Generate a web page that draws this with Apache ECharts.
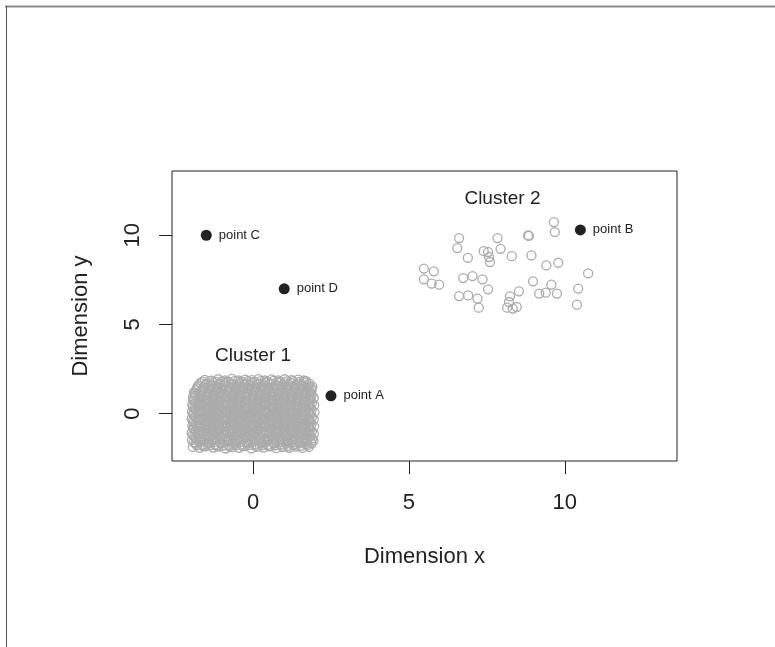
<!DOCTYPE html>
<html>
<head>
<meta charset="utf-8">
<title>Clusters</title>
<script src="https://cdn.jsdelivr.net/npm/echarts@6/dist/echarts.min.js"></script>
<style>
html, body { margin: 0; padding: 0; background: #fff; }
#chart { width: 775px; height: 647px; }
</style>
</head>
<body>
<div id="chart"></div>
<script>
// 数据: cluster 1 是一大团点, cluster 2 是散开的点, 另有四个单独标注的点
var cluster1 = [
    [-1.93,-1.86],[-1.71,-1.92],[-1.52,-1.83],[-1.28,-1.9],[-1.1,-1.84],[-0.88,-1.95],[-0.67,-1.87],[-0.45,-1.91],[-0.27,-1.82],[-0.05,-1.94],[0.14,-1.86],[0.33,-1.9],[0.56,-1.83],[0.74,-1.93],[0.95,-1.87],[1.16,-1.91],[1.37,-1.84],[1.58,-1.92],[1.79,-1.86],
    [-1.84,-1.68],[-1.62,-1.74],[-1.41,-1.66],[-1.22,-1.72],[-1.01,-1.65],[-0.79,-1.76],[-0.58,-1.69],[-0.36,-1.73],[-0.15,-1.64],[0.06,-1.71],[0.27,-1.67],[0.47,-1.75],[0.66,-1.66],[0.87,-1.72],[1.06,-1.68],[1.27,-1.74],[1.48,-1.65],[1.69,-1.71],[1.88,-1.67],
    [-1.96,-1.47],[-1.75,-1.53],[-1.55,-1.45],[-1.33,-1.52],[-1.14,-1.48],[-0.93,-1.55],[-0.71,-1.46],[-0.52,-1.51],[-0.31,-1.44],[-0.1,-1.53],[0.11,-1.49],[0.32,-1.54],[0.51,-1.45],[0.72,-1.5],[0.93,-1.47],[1.13,-1.53],[1.34,-1.46],[1.55,-1.52],[1.74,-1.48],[1.94,-1.51],
    [-1.88,-1.28],[-1.67,-1.34],[-1.46,-1.26],[-1.25,-1.31],[-1.05,-1.27],[-0.84,-1.35],[-0.63,-1.29],[-0.42,-1.33],[-0.22,-1.25],[-0.01,-1.32],[0.2,-1.28],[0.41,-1.35],[0.61,-1.26],[0.82,-1.3],[1.02,-1.27],[1.23,-1.34],[1.44,-1.29],[1.64,-1.32],[1.85,-1.26],
    [-1.97,-1.08],[-1.78,-1.13],[-1.57,-1.06],[-1.36,-1.12],[-1.16,-1.05],[-0.95,-1.14],[-0.74,-1.09],[-0.53,-1.11],[-0.33,-1.04],[-0.12,-1.13],[0.09,-1.07],[0.3,-1.12],[0.5,-1.05],[0.71,-1.1],[0.92,-1.08],[1.12,-1.14],[1.33,-1.06],[1.54,-1.11],[1.75,-1.07],[1.95,-1.12],
    [-1.9,-0.87],[-1.69,-0.93],[-1.48,-0.86],[-1.27,-0.91],[-1.07,-0.85],[-0.86,-0.94],[-0.65,-0.88],[-0.44,-0.92],[-0.24,-0.84],[-0.03,-0.91],[0.18,-0.87],[0.38,-0.94],[0.59,-0.86],[0.8,-0.9],[1.01,-0.88],[1.21,-0.93],[1.42,-0.85],[1.62,-0.91],[1.83,-0.87],
    [-1.95,-0.68],[-1.76,-0.73],[-1.55,-0.66],[-1.34,-0.71],[-1.13,-0.65],[-0.93,-0.74],[-0.72,-0.67],[-0.51,-0.72],[-0.3,-0.64],[-0.1,-0.71],[0.11,-0.68],[0.32,-0.73],[0.53,-0.65],[0.73,-0.7],[0.94,-0.67],[1.15,-0.74],[1.35,-0.66],[1.56,-0.72],[1.77,-0.69],[1.96,-0.71],
    [-1.89,-0.47],[-1.68,-0.53],[-1.47,-0.45],[-1.26,-0.52],[-1.06,-0.46],[-0.85,-0.54],[-0.64,-0.48],[-0.43,-0.51],[-0.23,-0.44],[-0.02,-0.53],[0.19,-0.47],[0.4,-0.52],[0.6,-0.45],[0.81,-0.5],[1.02,-0.48],[1.22,-0.54],[1.43,-0.46],[1.64,-0.51],[1.84,-0.47],
    [-1.97,-0.28],[-1.77,-0.33],[-1.56,-0.26],[-1.35,-0.31],[-1.15,-0.25],[-0.94,-0.34],[-0.73,-0.29],[-0.52,-0.32],[-0.32,-0.24],[-0.11,-0.31],[0.1,-0.27],[0.31,-0.33],[0.51,-0.25],[0.72,-0.3],[0.93,-0.28],[1.13,-0.34],[1.34,-0.26],[1.55,-0.32],[1.76,-0.29],[1.95,-0.31],
    [-1.91,-0.08],[-1.7,-0.13],[-1.49,-0.06],[-1.28,-0.11],[-1.08,-0.05],[-0.87,-0.14],[-0.66,-0.09],[-0.45,-0.12],[-0.25,-0.04],[-0.04,-0.11],[0.17,-0.07],[0.37,-0.13],[0.58,-0.05],[0.79,-0.1],[1.0,-0.08],[1.2,-0.14],[1.41,-0.06],[1.62,-0.11],[1.82,-0.07],
    [-1.96,0.12],[-1.75,0.07],[-1.54,0.14],[-1.33,0.09],[-1.12,0.15],[-0.92,0.06],[-0.71,0.11],[-0.5,0.08],[-0.29,0.16],[-0.09,0.09],[0.12,0.13],[0.33,0.07],[0.54,0.15],[0.74,0.1],[0.95,0.12],[1.16,0.06],[1.36,0.14],[1.57,0.09],[1.78,0.13],[1.97,0.08],
    [-1.88,0.32],[-1.67,0.27],[-1.46,0.34],[-1.26,0.29],[-1.05,0.35],[-0.84,0.26],[-0.63,0.31],[-0.43,0.28],[-0.22,0.36],[-0.01,0.29],[0.2,0.33],[0.4,0.27],[0.61,0.35],[0.82,0.3],[1.03,0.32],[1.23,0.26],[1.44,0.34],[1.65,0.29],[1.85,0.33],
    [-1.95,0.52],[-1.74,0.47],[-1.53,0.54],[-1.32,0.49],[-1.11,0.55],[-0.91,0.46],[-0.7,0.51],[-0.49,0.48],[-0.28,0.56],[-0.08,0.49],[0.13,0.53],[0.34,0.47],[0.55,0.55],[0.75,0.5],[0.96,0.52],[1.17,0.46],[1.37,0.54],[1.58,0.49],[1.79,0.53],[1.96,0.48],
    [-1.9,0.72],[-1.69,0.67],[-1.48,0.74],[-1.27,0.69],[-1.07,0.75],[-0.86,0.66],[-0.65,0.71],[-0.44,0.68],[-0.24,0.76],[-0.03,0.69],[0.18,0.73],[0.39,0.67],[0.59,0.75],[0.8,0.7],[1.01,0.72],[1.22,0.66],[1.42,0.74],[1.63,0.69],[1.84,0.73],
    [-1.93,0.92],[-1.72,0.87],[-1.51,0.94],[-1.3,0.89],[-1.1,0.95],[-0.89,0.86],[-0.68,0.91],[-0.47,0.88],[-0.27,0.96],[-0.06,0.89],[0.15,0.93],[0.36,0.87],[0.56,0.95],[0.77,0.9],[0.98,0.92],[1.18,0.86],[1.39,0.94],[1.6,0.89],[1.81,0.93],[1.95,0.88],
    [-1.87,1.12],[-1.66,1.07],[-1.45,1.14],[-1.24,1.09],[-1.04,1.15],[-0.83,1.06],[-0.62,1.11],[-0.41,1.08],[-0.21,1.16],[0.0,1.09],[0.21,1.13],[0.42,1.07],[0.62,1.15],[0.83,1.1],[1.04,1.12],[1.24,1.06],[1.45,1.14],[1.66,1.09],[1.86,1.13],
    [-1.83,1.32],[-1.62,1.27],[-1.41,1.34],[-1.2,1.29],[-1.0,1.35],[-0.79,1.26],[-0.58,1.31],[-0.37,1.28],[-0.17,1.36],[0.04,1.29],[0.25,1.33],[0.46,1.27],[0.66,1.35],[0.87,1.3],[1.08,1.32],[1.28,1.26],[1.49,1.34],[1.7,1.29],[1.88,1.31],
    [-1.78,1.52],[-1.57,1.47],[-1.36,1.54],[-1.15,1.49],[-0.95,1.55],[-0.74,1.46],[-0.53,1.51],[-0.32,1.48],[-0.12,1.56],[0.09,1.49],[0.3,1.53],[0.51,1.47],[0.71,1.55],[0.92,1.5],[1.13,1.52],[1.33,1.46],[1.54,1.54],[1.75,1.49],[1.9,1.52],
    [-1.69,1.72],[-1.48,1.67],[-1.27,1.74],[-1.06,1.69],[-0.86,1.75],[-0.65,1.66],[-0.44,1.71],[-0.23,1.68],[-0.03,1.76],[0.18,1.69],[0.39,1.73],[0.6,1.67],[0.8,1.75],[1.01,1.7],[1.22,1.72],[1.42,1.66],[1.63,1.74],[1.81,1.69],
    [-1.55,1.9],[-1.33,1.85],[-1.12,1.93],[-0.9,1.87],[-0.68,1.95],[-0.47,1.86],[-0.25,1.91],[-0.04,1.88],[0.17,1.94],[0.38,1.86],[0.6,1.92],[0.81,1.87],[1.02,1.93],[1.24,1.88],[1.45,1.91],[1.63,1.86],
    // 中间更密的一层
    [-1.81,-1.78],[-1.6,-1.81],[-1.38,-1.77],[-1.17,-1.8],[-0.97,-1.79],[-0.76,-1.83],[-0.55,-1.78],[-0.33,-1.81],[-0.13,-1.76],[0.08,-1.8],[0.29,-1.78],[0.5,-1.82],[0.7,-1.77],[0.91,-1.79],[1.12,-1.81],[1.32,-1.76],[1.53,-1.8],[1.73,-1.78],
    [-1.9,-1.6],[-1.65,-1.57],[-1.44,-1.62],[-1.23,-1.58],[-1.03,-1.61],[-0.81,-1.56],[-0.61,-1.6],[-0.4,-1.58],[-0.19,-1.62],[0.02,-1.57],[0.23,-1.6],[0.43,-1.56],[0.64,-1.61],[0.85,-1.59],[1.05,-1.57],[1.26,-1.62],[1.47,-1.58],[1.67,-1.6],[1.86,-1.57],
    [-1.83,-1.38],[-1.61,-1.42],[-1.4,-1.37],[-1.19,-1.41],[-0.99,-1.39],[-0.78,-1.43],[-0.56,-1.38],[-0.35,-1.4],[-0.15,-1.36],[0.06,-1.41],[0.26,-1.38],[0.47,-1.42],[0.68,-1.37],[0.88,-1.4],[1.09,-1.39],[1.29,-1.43],[1.5,-1.37],[1.7,-1.41],[1.9,-1.38],
    [-1.93,-1.2],[-1.72,-1.17],[-1.51,-1.22],[-1.3,-1.18],[-1.1,-1.21],[-0.89,-1.16],[-0.68,-1.2],[-0.47,-1.18],[-0.27,-1.22],[-0.06,-1.17],[0.15,-1.2],[0.35,-1.16],[0.56,-1.21],[0.77,-1.19],[0.97,-1.17],[1.18,-1.22],[1.39,-1.18],[1.59,-1.2],[1.8,-1.17],
    [-1.84,-0.98],[-1.63,-1.02],[-1.42,-0.97],[-1.21,-1.01],[-1.01,-0.99],[-0.8,-1.03],[-0.59,-0.98],[-0.38,-1.0],[-0.18,-0.96],[0.03,-1.01],[0.24,-0.98],[0.44,-1.02],[0.65,-0.97],[0.86,-1.0],[1.06,-0.99],[1.27,-1.03],[1.48,-0.97],[1.68,-1.01],[1.89,-0.98],
    [-1.92,-0.8],[-1.71,-0.77],[-1.5,-0.82],[-1.29,-0.78],[-1.09,-0.81],[-0.88,-0.76],[-0.67,-0.8],[-0.46,-0.78],[-0.26,-0.82],[-0.05,-0.77],[0.16,-0.8],[0.36,-0.76],[0.57,-0.81],[0.78,-0.79],[0.98,-0.77],[1.19,-0.82],[1.4,-0.78],[1.6,-0.8],[1.81,-0.77],
    [-1.85,-0.58],[-1.64,-0.62],[-1.43,-0.57],[-1.22,-0.61],[-1.02,-0.59],[-0.81,-0.63],[-0.6,-0.58],[-0.39,-0.6],[-0.19,-0.56],[0.02,-0.61],[0.23,-0.58],[0.43,-0.62],[0.64,-0.57],[0.85,-0.6],[1.05,-0.59],[1.26,-0.63],[1.47,-0.57],[1.67,-0.61],[1.88,-0.58],
    [-1.93,-0.4],[-1.72,-0.37],[-1.51,-0.42],[-1.3,-0.38],[-1.1,-0.41],[-0.89,-0.36],[-0.68,-0.4],[-0.47,-0.38],[-0.27,-0.42],[-0.06,-0.37],[0.15,-0.4],[0.35,-0.36],[0.56,-0.41],[0.77,-0.39],[0.97,-0.37],[1.18,-0.42],[1.39,-0.38],[1.59,-0.4],[1.8,-0.37],
    [-1.84,-0.18],[-1.63,-0.22],[-1.42,-0.17],[-1.21,-0.21],[-1.01,-0.19],[-0.8,-0.23],[-0.59,-0.18],[-0.38,-0.2],[-0.18,-0.16],[0.03,-0.21],[0.24,-0.18],[0.44,-0.22],[0.65,-0.17],[0.86,-0.2],[1.06,-0.19],[1.27,-0.23],[1.48,-0.17],[1.68,-0.21],[1.89,-0.18],
    [-1.92,0.0],[-1.71,0.03],[-1.5,-0.02],[-1.29,0.02],[-1.09,-0.01],[-0.88,0.04],[-0.67,0.0],[-0.46,0.02],[-0.26,-0.02],[-0.05,0.03],[0.16,0.0],[0.36,0.04],[0.57,-0.01],[0.78,0.01],[0.98,0.03],[1.19,-0.02],[1.4,0.02],[1.6,0.0],[1.81,0.03],
    [-1.85,0.22],[-1.64,0.18],[-1.43,0.23],[-1.22,0.19],[-1.02,0.21],[-0.81,0.17],[-0.6,0.22],[-0.39,0.2],[-0.19,0.24],[0.02,0.19],[0.23,0.22],[0.43,0.18],[0.64,0.23],[0.85,0.2],[1.05,0.21],[1.26,0.17],[1.47,0.23],[1.67,0.19],[1.88,0.22],
    [-1.93,0.4],[-1.72,0.43],[-1.51,0.38],[-1.3,0.42],[-1.1,0.39],[-0.89,0.44],[-0.68,0.4],[-0.47,0.42],[-0.27,0.38],[-0.06,0.43],[0.15,0.4],[0.35,0.44],[0.56,0.39],[0.77,0.41],[0.97,0.43],[1.18,0.38],[1.39,0.42],[1.59,0.4],[1.8,0.43],
    [-1.84,0.62],[-1.63,0.58],[-1.42,0.63],[-1.21,0.59],[-1.01,0.61],[-0.8,0.57],[-0.59,0.62],[-0.38,0.6],[-0.18,0.64],[0.03,0.59],[0.24,0.62],[0.44,0.58],[0.65,0.63],[0.86,0.6],[1.06,0.61],[1.27,0.57],[1.48,0.63],[1.68,0.59],[1.89,0.62],
    [-1.92,0.8],[-1.71,0.83],[-1.5,0.78],[-1.29,0.82],[-1.09,0.79],[-0.88,0.84],[-0.67,0.8],[-0.46,0.82],[-0.26,0.78],[-0.05,0.83],[0.16,0.8],[0.36,0.84],[0.57,0.79],[0.78,0.81],[0.98,0.83],[1.19,0.78],[1.4,0.82],[1.6,0.8],[1.81,0.83],
    [-1.85,1.02],[-1.64,0.98],[-1.43,1.03],[-1.22,0.99],[-1.02,1.01],[-0.81,0.97],[-0.6,1.02],[-0.39,1.0],[-0.19,1.04],[0.02,0.99],[0.23,1.02],[0.43,0.98],[0.64,1.03],[0.85,1.0],[1.05,1.01],[1.26,0.97],[1.47,1.03],[1.67,0.99],[1.88,1.02],
    [-1.9,1.2],[-1.69,1.23],[-1.48,1.18],[-1.27,1.22],[-1.07,1.19],[-0.86,1.24],[-0.65,1.2],[-0.44,1.22],[-0.24,1.18],[-0.03,1.23],[0.18,1.2],[0.38,1.24],[0.59,1.19],[0.8,1.21],[1.0,1.23],[1.21,1.18],[1.42,1.22],[1.62,1.2],[1.83,1.23],
    [-1.8,1.42],[-1.59,1.38],[-1.38,1.43],[-1.17,1.39],[-0.97,1.41],[-0.76,1.37],[-0.55,1.42],[-0.34,1.4],[-0.14,1.44],[0.07,1.39],[0.28,1.42],[0.48,1.38],[0.69,1.43],[0.9,1.4],[1.1,1.41],[1.31,1.37],[1.52,1.43],[1.72,1.39],[1.87,1.42],
    [-1.74,1.6],[-1.53,1.63],[-1.32,1.58],[-1.11,1.62],[-0.91,1.59],[-0.7,1.64],[-0.49,1.6],[-0.28,1.62],[-0.08,1.58],[0.13,1.63],[0.34,1.6],[0.54,1.64],[0.75,1.59],[0.96,1.61],[1.16,1.63],[1.37,1.58],[1.58,1.62],[1.77,1.6],
    [-1.62,1.8],[-1.41,1.83],[-1.2,1.78],[-0.99,1.82],[-0.79,1.79],[-0.58,1.84],[-0.37,1.8],[-0.16,1.82],[0.04,1.78],[0.25,1.83],[0.46,1.8],[0.66,1.84],[0.87,1.79],[1.08,1.81],[1.28,1.83],[1.49,1.78],[1.7,1.82]
];

var cluster2 = [
    [9.65,10.74],[9.68,10.18],[8.82,9.99],[8.85,9.96],[6.61,9.84],[6.55,9.28],[6.89,8.73],[7.84,9.84],[7.94,9.24],
    [7.40,9.11],[7.54,9.06],[7.57,8.78],[7.60,8.50],[8.30,8.83],[8.93,8.87],[9.41,8.31],[9.79,8.46],[10.75,7.86],
    [5.48,8.13],[5.80,7.98],[5.48,7.53],[5.73,7.29],[5.97,7.23],[6.74,7.60],[7.04,7.71],[7.36,7.53],[7.54,6.97],
    [6.61,6.59],[6.90,6.63],[7.20,6.45],[7.24,5.94],[8.98,7.42],[9.57,7.23],[9.18,6.73],[9.39,6.78],[9.75,6.73],
    [10.43,7.01],[10.39,6.11],[8.53,6.86],[8.24,6.58],[8.21,6.26],[8.15,5.94],[8.33,5.89],[8.46,5.98]
];

var pointNames = ['point A', 'point B', 'point C', 'point D'];
var pointX = [2.5, 10.5, -1.5, 1];
var pointY = [1, 10.3, 10, 7];

var clusterNames = ['Cluster 1', 'Cluster 2'];
var clusterX = [0, 8];
var clusterY = [3.25, 12.05];

var xTicks = [0, 5, 10];
var yTicks = [0, 5, 10];

var FONT = 'Liberation Sans, Arial, Helvetica, sans-serif';
var INK = '#222222';
var GREY = '#ababab';

function pairs(xs, ys){
    var out = [];
    for (var i = 0; i < xs.length; i ++)
        out.push([xs[i], ys[i]]);
    return out;
}

var openCircle = {
    type: 'scatter',
    symbol: 'circle',
    symbolSize: 9,
    itemStyle: {color: 'rgba(0,0,0,0)', borderColor: GREY, borderWidth: 1.3, opacity: 1},
    emphasis: {disabled: true},
    silent: true
};

var option = {
    animation: false,
    backgroundColor: '#fff',
    textStyle: {fontFamily: FONT, color: INK},
    grid: {
        left: 172, top: 171, width: 505, height: 290,
        show: true, borderColor: INK, borderWidth: 1,
        containLabel: false
    },
    xAxis: {
        type: 'value', min: -2.6, max: 13.6,
        name: 'Dimension x', nameLocation: 'middle', nameGap: 85,
        nameTextStyle: {fontSize: 22, color: INK, fontFamily: FONT},
        axisLine: {show: false, onZero: false},
        splitLine: {show: false},
        axisTick: {show: true, length: 13, customValues: xTicks, lineStyle: {color: INK, width: 1}},
        axisLabel: {customValues: xTicks, fontSize: 22, color: INK, fontFamily: FONT, margin: 31}
    },
    yAxis: {
        type: 'value', min: -2.65, max: 13.6,
        name: 'Dimension y', nameLocation: 'middle', nameGap: 80,
        nameTextStyle: {fontSize: 22, color: INK, fontFamily: FONT},
        axisLine: {show: false, onZero: false},
        splitLine: {show: false},
        axisTick: {show: true, length: 13, customValues: yTicks, lineStyle: {color: INK, width: 1}},
        axisLabel: {customValues: yTicks, rotate: 90, fontSize: 22, color: INK, fontFamily: FONT, margin: 28}
    },
    graphic: [
        {type: 'line', shape: {x1: 5, y1: 6.5, x2: 775, y2: 6.5}, style: {stroke: '#8a8a8a', lineWidth: 2}, silent: true},
        {type: 'line', shape: {x1: 6.5, y1: 6, x2: 6.5, y2: 647}, style: {stroke: '#555', lineWidth: 1}, silent: true}
    ],
    series: [
        Object.assign({}, openCircle, {name: 'cluster1', data: cluster1}),
        Object.assign({}, openCircle, {name: 'cluster2', data: cluster2}),
        {
            name: 'points', type: 'scatter', symbol: 'circle', symbolSize: 11,
            itemStyle: {color: INK, opacity: 1},
            silent: true,
            data: pairs(pointX, pointY),
            label: {
                show: true, position: 'right', distance: 7,
                fontSize: 13, color: INK, fontFamily: FONT,
                formatter: function(p){ return pointNames[p.dataIndex]; }
            }
        },
        {
            name: 'clusterLabels', type: 'scatter', symbolSize: 0,
            itemStyle: {opacity: 1},
            silent: true,
            data: pairs(clusterX, clusterY),
            label: {
                show: true, position: 'inside',
                fontSize: 19, color: INK, fontFamily: FONT,
                formatter: function(p){ return clusterNames[p.dataIndex]; }
            }
        }
    ]
};

var chart = echarts.init(document.getElementById('chart'), null, {renderer: 'canvas'});
chart.setOption(option);
</script>
</body>
</html>
